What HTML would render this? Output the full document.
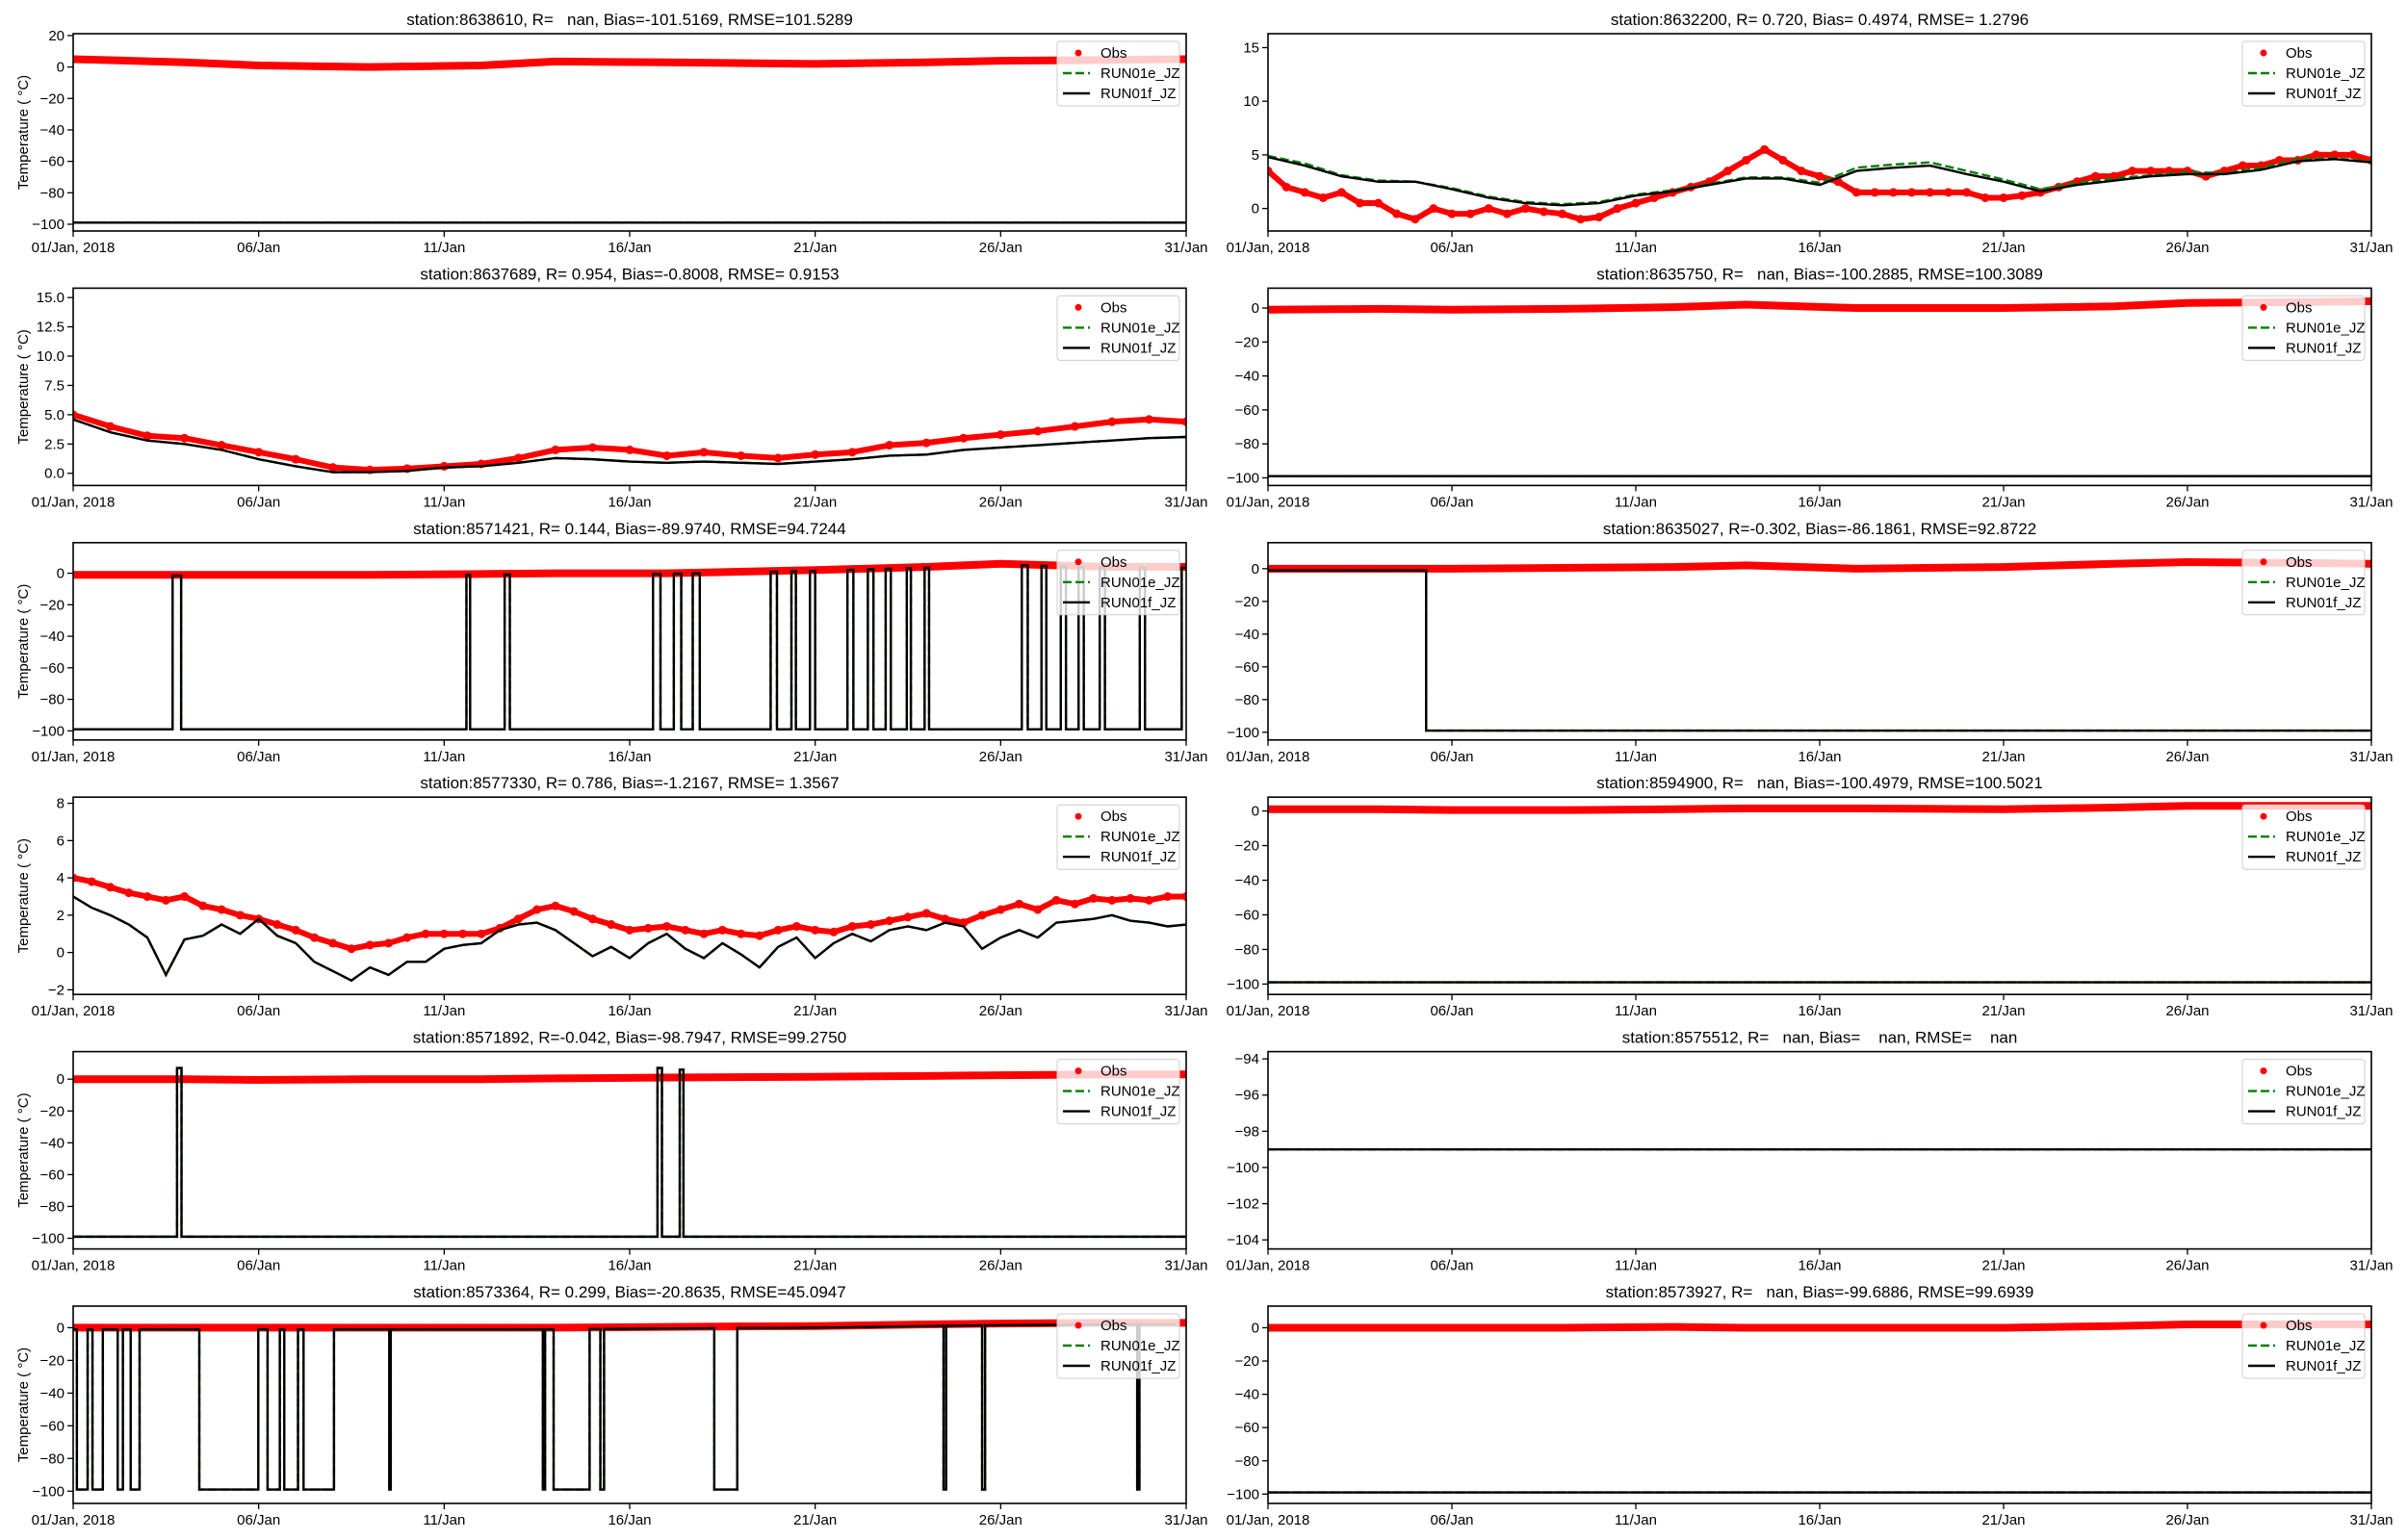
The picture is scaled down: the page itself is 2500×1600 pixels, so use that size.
<!DOCTYPE html>
<html><head><meta charset="utf-8"><style>
html,body{margin:0;padding:0;background:#fff;}
svg{display:block;font-family:"Liberation Sans","DejaVu Sans",sans-serif;}
</style></head><body>
<svg id="fig" width="2500" height="1600" viewBox="0 0 2500 1600" xmlns="http://www.w3.org/2000/svg"></svg>
<script>
// ---- shared axis data ----
const xTickDays=[0,5,10,15,20,25,30];
const xTickLabels=["01/Jan, 2018","06/Jan","11/Jan","16/Jan","21/Jan","26/Jan","31/Jan"];
const ticks100=[0,-20,-40,-60,-80,-100];
// ---- panel titles ----
const titles=["station:8638610, R=   nan, Bias=-101.5169, RMSE=101.5289","station:8632200, R= 0.720, Bias= 0.4974, RMSE= 1.2796",
"station:8637689, R= 0.954, Bias=-0.8008, RMSE= 0.9153","station:8635750, R=   nan, Bias=-100.2885, RMSE=100.3089",
"station:8571421, R= 0.144, Bias=-89.9740, RMSE=94.7244","station:8635027, R=-0.302, Bias=-86.1861, RMSE=92.8722",
"station:8577330, R= 0.786, Bias=-1.2167, RMSE= 1.3567","station:8594900, R=   nan, Bias=-100.4979, RMSE=100.5021",
"station:8571892, R=-0.042, Bias=-98.7947, RMSE=99.2750","station:8575512, R=   nan, Bias=    nan, RMSE=    nan",
"station:8573364, R= 0.299, Bias=-20.8635, RMSE=45.0947","station:8573927, R=   nan, Bias=-99.6886, RMSE=99.6939"];
// ---- observations ----
const halfDays=[0,0.5,1,1.5,2,2.5,3,3.5,4,4.5,5,5.5,6,6.5,7,7.5,8,8.5,9,9.5,10,10.5,11,11.5,12,12.5,13,13.5,14,14.5,15,15.5,16,16.5,17,17.5,18,18.5,19,19.5,20,20.5,21,21.5,22,22.5,23,23.5,24,24.5,25,25.5,26,26.5,27,27.5,28,28.5,29,29.5,30];
const fullDays=[0,1,2,3,4,5,6,7,8,9,10,11,12,13,14,15,16,17,18,19,20,21,22,23,24,25,26,27,28,29,30];
const obs8632200=[3.5,2,1.5,1,1.5,0.5,0.5,-0.5,-1,0,-0.5,-0.5,0,-0.5,0,-0.3,-0.5,-1,-0.8,0,0.5,1,1.5,2,2.5,3.5,4.5,5.5,4.5,3.5,3,2.5,1.5,1.5,1.5,1.5,1.5,1.5,1.5,1,1,1.2,1.5,2,2.5,3,3,3.5,3.5,3.5,3.5,3,3.5,4,4,4.5,4.5,5,5,5,4.5];
const obs8637689=[5,4,3.2,3,2.4,1.8,1.2,0.5,0.3,0.4,0.6,0.8,1.3,2,2.2,2,1.5,1.8,1.5,1.3,1.6,1.8,2.4,2.6,3,3.3,3.6,4,4.4,4.6,4.4];
const obs8577330=[4,3.8,3.5,3.2,3,2.8,3,2.5,2.3,2,1.8,1.5,1.2,0.8,0.5,0.2,0.4,0.5,0.8,1,1,1,1,1.3,1.8,2.3,2.5,2.2,1.8,1.5,1.2,1.3,1.4,1.2,1,1.2,1,0.9,1.2,1.4,1.2,1.1,1.4,1.5,1.7,1.9,2.1,1.8,1.6,2,2.3,2.6,2.3,2.8,2.6,2.9,2.8,2.9,2.8,3,3];
const coarseDays=[0,3,5,8,11,13,16,20,23,25,28,30];
const obs8638610=[5,3,1,0,1,3.5,3,2,3,4,4.5,5];
const obs8635750=[-1,-0.5,-1,-0.5,0.5,2,0,0,1,3,3.5,4];
const obs8571421=[-1,-1,-1,-1,-0.5,0,0,2,4,6,4,4];
const obs8635027=[0,0,0,0.5,1,2,0,1,3,4,3.5,3];
const obs8594900=[1,1,0.5,0.5,1,1.5,1.5,1,2,3,3,3];
const obs8571892=[0,0,-0.5,0,0,0.5,1,1.5,2,2.5,3,3];
const obs8573364=[0,0,0,0,0,0,0.5,1,2,2.5,3,3];
const obs8573927=[0,0,0,0,0.5,0,0,0,1,2,2,2];
// ---- model (smooth panels) ----
const f8632200=[4.8,4,3,2.5,2.5,1.8,1,0.5,0.3,0.5,1.2,1.6,2.2,2.8,2.8,2.2,3.5,3.8,4,3.2,2.5,1.6,2.2,2.6,3,3.2,3.2,3.6,4.4,4.6,4.3];
const e8632200=[4.9,4.2,3.1,2.6,2.5,1.9,1.1,0.6,0.4,0.6,1.3,1.7,2.3,2.9,2.9,2.4,3.8,4.1,4.3,3.5,2.7,1.8,2.4,2.8,3.1,3.4,3.3,3.8,4.6,4.7,4.4];
const f8637689=[4.6,3.5,2.8,2.5,2,1.2,0.6,0.1,0.1,0.2,0.5,0.6,0.9,1.3,1.2,1,0.9,1,0.9,0.8,1,1.2,1.5,1.6,2,2.2,2.4,2.6,2.8,3,3.1];
const f8577330=[3,2.4,2,1.5,0.8,-1.2,0.7,0.9,1.5,1,1.8,0.9,0.5,-0.5,-1,-1.5,-0.8,-1.2,-0.5,-0.5,0.2,0.4,0.5,1.2,1.5,1.6,1.2,0.5,-0.2,0.3,-0.3,0.5,1,0.2,-0.3,0.5,-0.1,-0.8,0.3,0.8,-0.3,0.5,1,0.6,1.2,1.4,1.2,1.6,1.4,0.2,0.8,1.2,0.8,1.6,1.7,1.8,2,1.7,1.6,1.4,1.5];
const missingValue=-99;
// ---- model valid windows (model near obs inside, -99 outside) ----
const up8571421=[[2.68,2.91],[10.6,10.7],[11.63,11.77],[15.63,15.83],[16.19,16.39],[16.7,16.89],[18.8,18.97],[19.36,19.48],[19.86,20.0],[20.87,21.03],[21.42,21.57],[21.9,22.04],[22.47,22.58],[22.95,23.07],[25.57,25.73],[26.1,26.23],[26.62,26.76],[27.1,27.24],[27.67,27.81],[28.75,28.89],[29.88,30]];
const up8571892=[[2.8,2.92],[15.75,15.87],[16.35,16.45]];
const upPeak8571892=[7,7,6];
const up8635027=[[0,4.3]];
// ---- model missing windows for 8573364 ----
const down8573364=[[0.1,0.39],[0.52,0.8],[1.2,1.34],[1.55,1.79],[3.4,4.99],[5.24,5.57],[5.69,6.06],[6.21,7.03],[8.52,8.56],[12.66,12.72],[12.95,13.92],[14.21,14.31],[17.28,17.9],[23.46,23.53],[24.5,24.58],[28.68,28.74]];

const NS="http://www.w3.org/2000/svg";
const svg=document.getElementById('fig');
function mk(tag,attrs,parent){const e=document.createElementNS(NS,tag);for(const k in attrs)e.setAttribute(k,attrs[k]);(parent||svg).appendChild(e);return e;}
function interp(ts,vs,t){if(t<=ts[0])return vs[0];for(let i=1;i<ts.length;i++){if(t<=ts[i]){const a=(t-ts[i-1])/(ts[i]-ts[i-1]);return vs[i-1]+a*(vs[i]-vs[i-1]);}}return vs[vs.length-1];}
function pairs(ts,vs){return ts.map((t,i)=>[t,vs[i]]);}
function flat(v){return [[0,v],[30,v]];}
function upModel(win,ts,vs,peaks,off){const p=[[0,missingValue]];win.forEach((w,i)=>{const a=peaks?peaks[i]:interp(ts,vs,w[0])-off;const b=peaks?peaks[i]:interp(ts,vs,w[1])-off;if(w[0]>0)p.push([w[0],missingValue]);else p.shift();p.push([w[0],a],[w[1],b]);if(w[1]<30)p.push([w[1],missingValue]);});if(p[p.length-1][0]<30)p.push([30,missingValue]);return p;}
function downModel(win,ts,vs,off){const p=[];let t=0;win.forEach(w=>{for(let s=t;s<w[0];s+=0.5)p.push([s,interp(ts,vs,s)-off]);p.push([w[0],interp(ts,vs,w[0])-off],[w[0],missingValue],[w[1],missingValue],[w[1],interp(ts,vs,w[1])-off]);t=w[1]+0.5;});for(let s=t;s<=30;s+=0.5)p.push([s,interp(ts,vs,s)-off]);return p;}

const L=[76,1232],R=[1317,2463],tops=[35,299.4,563.8,828.2,1092.6,1357],H=205;
const panels=[
{id:'8638610',ymin:-104.3,ymax:21.2,ticks:[20,0,-20,-40,-60,-80,-100],fmt:v=>v,ot:coarseDays,ov:obs8638610,f:flat(missingValue),e:flat(missingValue)},
{id:'8632200',ymin:-2.1,ymax:16.3,ticks:[0,5,10,15],fmt:v=>v,ot:halfDays,ov:obs8632200,f:pairs(fullDays,f8632200),e:pairs(fullDays,e8632200),dots:true},
{id:'8637689',ymin:-1.04,ymax:15.8,ticks:[0,2.5,5,7.5,10,12.5,15],fmt:v=>v.toFixed(1),ot:fullDays,ov:obs8637689,f:pairs(fullDays,f8637689),e:pairs(fullDays,f8637689),dots:true},
{id:'8635750',ymin:-104.5,ymax:11.7,ticks:ticks100,fmt:v=>v,ot:coarseDays,ov:obs8635750,f:flat(missingValue),e:flat(missingValue)},
{id:'8571421',ymin:-105.8,ymax:19.4,ticks:ticks100,fmt:v=>v,ot:coarseDays,ov:obs8571421,f:upModel(up8571421,coarseDays,obs8571421,null,0.5),e:upModel(up8571421,coarseDays,obs8571421,null,0.5)},
{id:'8635027',ymin:-104.7,ymax:15.9,ticks:ticks100,fmt:v=>v,ot:coarseDays,ov:obs8635027,f:upModel(up8635027,coarseDays,obs8635027,null,1),e:upModel(up8635027,coarseDays,obs8635027,null,1)},
{id:'8577330',ymin:-2.25,ymax:8.33,ticks:[-2,0,2,4,6,8],fmt:v=>v,ot:halfDays,ov:obs8577330,f:pairs(halfDays,f8577330),e:pairs(halfDays,f8577330),dots:true},
{id:'8594900',ymin:-106,ymax:8,ticks:ticks100,fmt:v=>v,ot:coarseDays,ov:obs8594900,f:flat(missingValue),e:flat(missingValue)},
{id:'8571892',ymin:-106.7,ymax:17.3,ticks:ticks100,fmt:v=>v,ot:coarseDays,ov:obs8571892,f:upModel(up8571892,coarseDays,obs8571892,upPeak8571892,0),e:upModel(up8571892,coarseDays,obs8571892,upPeak8571892,0)},
{id:'8575512',ymin:-104.5,ymax:-93.6,ticks:[-94,-96,-98,-100,-102,-104],fmt:v=>v,ot:null,ov:null,f:flat(missingValue),e:flat(missingValue)},
{id:'8573364',ymin:-107.5,ymax:13.2,ticks:ticks100,fmt:v=>v,ot:coarseDays,ov:obs8573364,f:downModel(down8573364,coarseDays,obs8573364,1),e:downModel(down8573364,coarseDays,obs8573364,1)},
{id:'8573927',ymin:-105.6,ymax:13,ticks:ticks100,fmt:v=>v,ot:coarseDays,ov:obs8573927,f:flat(missingValue),e:flat(missingValue)}
];
const minus=s=>String(s).replace('-','\u2212');

panels.forEach((p,i)=>{
  const row=Math.floor(i/2),col=i%2;const xr=col?R:L;const top=tops[row],bot=top+H;
  const X=t=>xr[0]+(t/30)*(xr[1]-xr[0]);
  const Y=v=>bot-(v-p.ymin)/(p.ymax-p.ymin)*H;
  const g=mk('g',{});
  
  
  const cid='clip'+i;const cp=mk('clipPath',{id:cid},g);mk('rect',{x:xr[0],y:top,width:xr[1]-xr[0],height:H},cp);
  const t=mk('text',{x:(xr[0]+xr[1])/2,y:top-9,'text-anchor':'middle','font-size':17,fill:'#000',style:'white-space:pre'},g);t.textContent=titles[i];
  
  
  const plot=mk('g',{'clip-path':'url(#'+cid+')'},g);
  if(p.ov){
    const obsG=mk('g',{},plot);
    
    
    mk('polyline',{points:p.ot.map((tt,k)=>X(tt)+','+Y(p.ov[k])).join(' '),fill:'none',stroke:'#ff0000','stroke-width':p.dots?6:8,'stroke-linejoin':'round','stroke-linecap':'round'},obsG);
    if(p.dots) p.ot.forEach((tt,k)=>{mk('circle',{cx:X(tt),cy:Y(p.ov[k]),r:4.5,fill:'#ff0000'},obsG);});
  }
  const eL=mk('polyline',{points:p.e.map(q=>X(q[0])+','+Y(q[1])).join(' '),fill:'none',stroke:'#008000','stroke-width':2.4,'stroke-dasharray':'9,4'},plot);
  
  
  const fL=mk('polyline',{points:p.f.map(q=>X(q[0])+','+Y(q[1])).join(' '),fill:'none',stroke:'#000','stroke-width':2.4},plot);
  
  
  mk('rect',{x:xr[0],y:top,width:xr[1]-xr[0],height:H,fill:'none',stroke:'#000','stroke-width':1.6},g);
  xTickDays.forEach((d,k)=>{mk('line',{x1:X(d),x2:X(d),y1:bot,y2:bot+6,stroke:'#000','stroke-width':1.3},g);
    const tx=mk('text',{x:X(d),y:bot+22,'text-anchor':'middle','font-size':15},g);tx.textContent=xTickLabels[k];
    
    });
  p.ticks.forEach(v=>{const y=Y(v);mk('line',{x1:xr[0]-6,x2:xr[0],y1:y,y2:y,stroke:'#000','stroke-width':1.3},g);
    const ty=mk('text',{x:xr[0]-9,y:y+5,'text-anchor':'end','font-size':15},g);ty.textContent=minus(p.fmt(v));
    
    });
  if(col===0){const yl=mk('text',{x:0,y:0,transform:'translate(29,'+(top+H/2)+') rotate(-90)','text-anchor':'middle','font-size':15,style:'white-space:pre'},g);yl.textContent='Temperature ( \u00b0C)';
    
    }
  const lx=xr[1]-7-127,ly=top+8;const lg=mk('g',{},g);
  
  
  mk('rect',{x:lx,y:ly,width:127,height:67,rx:3,fill:'#fff','fill-opacity':0.8,stroke:'#cccccc','stroke-width':1},lg);
  mk('circle',{cx:lx+22,cy:ly+12,r:3.5,fill:'#ff0000'},lg);
  mk('line',{x1:lx+6,x2:lx+34,y1:ly+33,y2:ly+33,stroke:'#008000','stroke-width':2.4,'stroke-dasharray':'9,4'},lg);
  mk('line',{x1:lx+6,x2:lx+34,y1:ly+54,y2:ly+54,stroke:'#000','stroke-width':2.4},lg);
  [['Obs',12],['RUN01e_JZ',33],['RUN01f_JZ',54]].forEach(a=>{const tt=mk('text',{x:lx+45,y:ly+a[1]+5,'font-size':15},lg);tt.textContent=a[0];
    
    });
});
</script>
</body></html>
